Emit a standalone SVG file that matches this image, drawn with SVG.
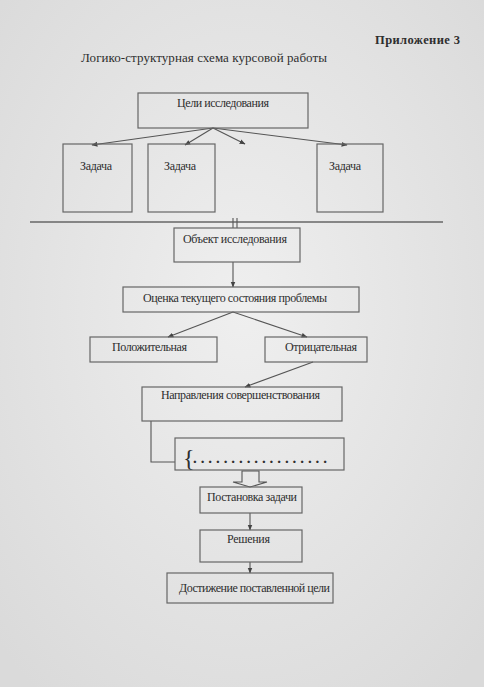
<svg xmlns="http://www.w3.org/2000/svg" width="484" height="687" viewBox="0 0 484 687">
<defs>
<marker id="ah" viewBox="0 0 10 10" refX="9" refY="5" markerWidth="6" markerHeight="6" orient="auto" markerUnits="userSpaceOnUse"><path d="M0,1 L10,5 L0,9 z" fill="#444"/></marker>
<radialGradient id="bg" cx="50%" cy="45%" r="70%"><stop offset="0" stop-color="#efefef"/><stop offset="1" stop-color="#dadada"/></radialGradient>
</defs>
<style>
text{font-family:"Liberation Serif","Times New Roman",serif;fill:#2e2e2e;font-size:12px}
.title{font-size:13px}
.app{font-size:12.5px;font-weight:bold}
.brace{font-size:24px}
.dots{font-size:15px;font-weight:bold}
.box{fill:none;stroke:#666;stroke-width:1.2}
.ln{fill:none;stroke:#555;stroke-width:1.1}
.arr{fill:none;stroke:#555;stroke-width:1.1;marker-end:url(#ah)}
</style>
<rect x="0" y="0" width="484" height="687" fill="url(#bg)"/>
<text class="app" x="375" y="44" textLength="85">Приложение 3</text>
<text class="title" x="81" y="62" textLength="246">Логико-структурная схема курсовой работы</text>

<g id="connectors">
<line class="arr" x1="213" y1="128" x2="92" y2="145"/>
<line class="arr" x1="213" y1="128" x2="185" y2="145"/>
<line class="arr" x1="213" y1="128" x2="245" y2="144"/>
<line class="arr" x1="213" y1="128" x2="347" y2="145"/>
<line x1="30" y1="222" x2="443" y2="222" stroke="#666" stroke-width="1.6"/>
<line class="ln" x1="233" y1="218" x2="233" y2="228"/>
<line class="ln" x1="237" y1="218" x2="237" y2="228"/>
<line class="arr" x1="233" y1="262" x2="233" y2="287"/>
<line class="arr" x1="233" y1="312" x2="168" y2="337"/>
<line class="arr" x1="233" y1="312" x2="307" y2="337"/>
<line class="arr" x1="313" y1="362" x2="245" y2="387"/>
<polyline class="ln" points="151,421 151,462 175,462"/>
<polygon class="ln" points="242,471 259,471 259,482 267,482 250,487 233,482 242,482"/>
<line class="arr" x1="250" y1="513" x2="250" y2="530"/>
<line class="arr" x1="250" y1="562" x2="250" y2="573"/>
</g>

<g id="goals"><rect class="box" x="138" y="93" width="170" height="35"/><text x="223" y="107" text-anchor="middle" textLength="92">Цели исследования</text></g>
<g id="task1"><rect class="box" x="63" y="144" width="69" height="68"/><text x="96" y="170" text-anchor="middle" textLength="32">Задача</text></g>
<g id="task2"><rect class="box" x="148" y="144" width="67" height="68"/><text x="180" y="170" text-anchor="middle" textLength="32">Задача</text></g>
<g id="task3"><rect class="box" x="317" y="144" width="66" height="68"/><text x="345" y="170" text-anchor="middle" textLength="32">Задача</text></g>
<g id="object"><rect class="box" x="174" y="228" width="126" height="34"/><text x="183" y="243" textLength="104">Объект исследования</text></g>
<g id="assessment"><rect class="box" x="123" y="287" width="236" height="25"/><text x="143" y="302" textLength="184">Оценка текущего состояния проблемы</text></g>
<g id="positive"><rect class="box" x="90" y="337" width="127" height="25"/><text x="112" y="351" textLength="75">Положительная</text></g>
<g id="negative"><rect class="box" x="265" y="337" width="102" height="25"/><text x="285" y="351" textLength="72">Отрицательная</text></g>
<g id="directions"><rect class="box" x="142" y="387" width="200" height="34"/><text x="161" y="399" textLength="159">Направления совершенствования</text></g>
<g id="list"><rect class="box" x="175" y="438" width="169" height="32"/><text class="brace" x="183" y="466">{</text><text class="dots" x="193" y="463" textLength="134">..................</text></g>
<g id="statement"><rect class="box" x="200" y="487" width="102" height="26"/><text x="207" y="501" textLength="90">Постановка задачи</text></g>
<g id="solutions"><rect class="box" x="200" y="530" width="102" height="32"/><text x="227" y="543" textLength="43">Решения</text></g>
<g id="goal-achieved"><rect class="box" x="167" y="573" width="166" height="30"/><text x="179" y="592" textLength="151">Достижение поставленной цели</text></g>
</svg>
